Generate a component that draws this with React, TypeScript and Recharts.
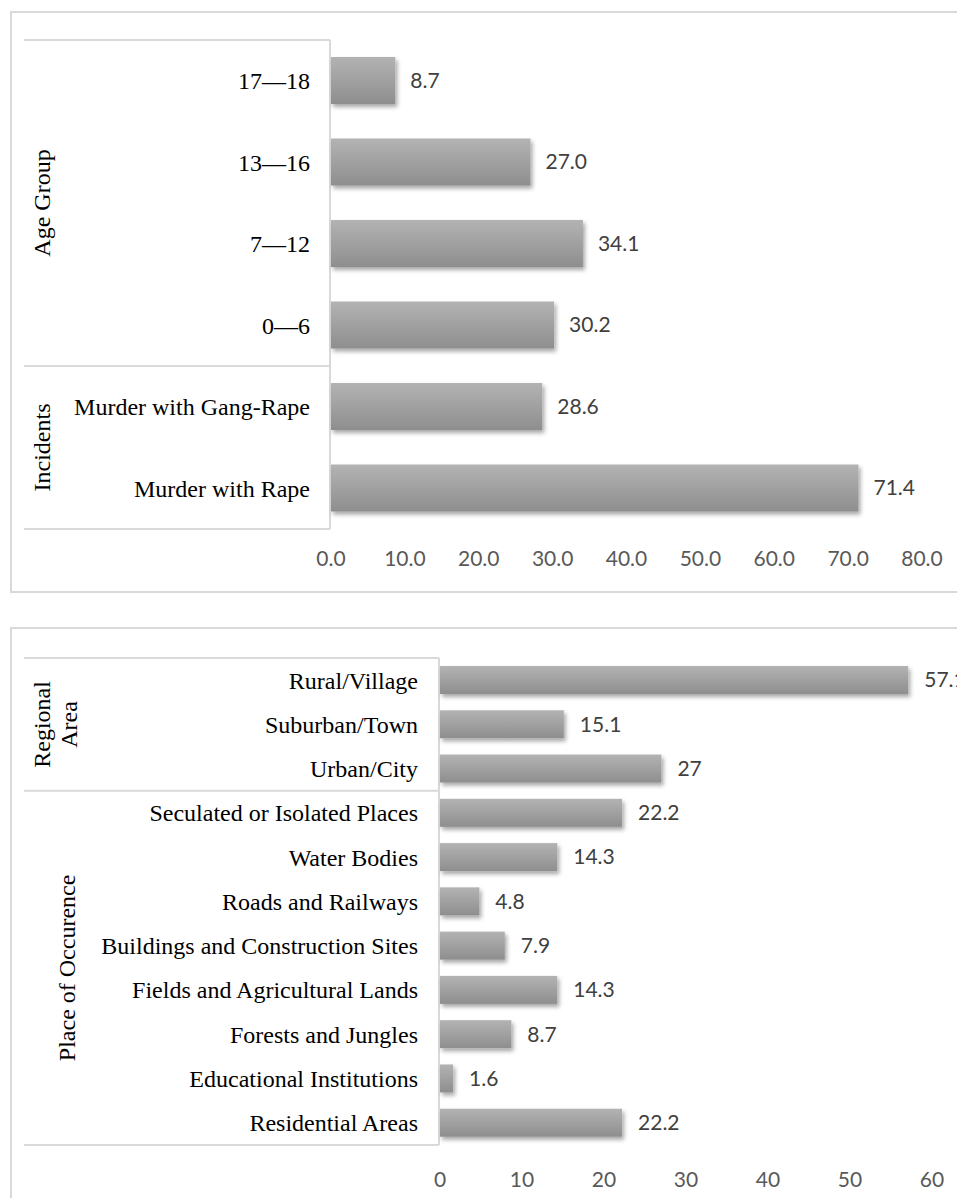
import React from 'react';
import { BarChart, Bar, XAxis, YAxis, LabelList, Customized } from 'recharts';

// ---------- data ----------
const ageCategories = ['17—18', '13—16', '7—12', '0—6'];
const ageValues = [8.7, 27.0, 34.1, 30.2];
const incidentCategories = ['Murder with Gang-Rape', 'Murder with Rape'];
const incidentValues = [28.6, 71.4];
const topTicks = [0, 10, 20, 30, 40, 50, 60, 70, 80];

const regionCategories = ['Rural/Village', 'Suburban/Town', 'Urban/City'];
const regionValues = [57.1, 15.1, 27];
const placeCategories = [
  'Seculated or Isolated Places',
  'Water Bodies',
  'Roads and Railways',
  'Buildings and Construction Sites',
  'Fields and Agricultural Lands',
  'Forests and Jungles',
  'Educational Institutions',
  'Residential Areas',
];
const placeValues = [22.2, 14.3, 4.8, 7.9, 14.3, 8.7, 1.6, 22.2];
const bottomTicks = [0, 10, 20, 30, 40, 50, 60];

const topGroupNames = [['Age Group'], ['Incidents']];
const bottomGroupNames = [['Regional', 'Area'], ['Place of Occurence']];

const topData = [...ageCategories, ...incidentCategories].map((name, i) => ({
  name,
  value: [...ageValues, ...incidentValues][i],
}));
const bottomData = [...regionCategories, ...placeCategories].map((name, i) => ({
  name,
  value: [...regionValues, ...placeValues][i],
}));

// ---------- style ----------
const SERIF = '"Liberation Serif", "Times New Roman", serif';
const SANS = 'Lato, "Open Sans", sans-serif';
const LINE = '#d9d9d9';

type Cfg = {
  w: number;
  h: number;
  margin: { top: number; right: number; bottom: number; left: number };
  yWidth: number;
  xAxisH: number;
  barSize: number;
  tickDy: number;
  labelBaseX: number[][];
  gradId: string;
  shadowId: string;
};

const cfgTop: Cfg = {
  w: 957,
  h: 600,
  margin: { top: 40, right: 35, bottom: 41, left: 0 },
  yWidth: 331,
  xAxisH: 30,
  barSize: 47,
  tickDy: 30,
  labelBaseX: [[50], [50]],
  gradId: 'gradTop',
  shadowId: 'shadowTop',
};

const cfgBottom: Cfg = {
  w: 957,
  h: 598,
  margin: { top: 58, right: 25, bottom: 23, left: 0 },
  yWidth: 440,
  xAxisH: 30,
  barSize: 28,
  tickDy: 35,
  labelBaseX: [[50, 77], [75]],
  gradId: 'gradBottom',
  shadowId: 'shadowBottom',
};

const makeOverlay = (cfg: Cfg, groupSizes: number[], groupNames: string[][]) => {
  const Overlay = () => {
    const top = cfg.margin.top;
    const bottom = cfg.h - cfg.margin.bottom - cfg.xAxisH;
    const left = cfg.margin.left + cfg.yWidth;
    const total = groupSizes.reduce((s, g) => s + g, 0);
    const rowH = (bottom - top) / total;
    const lines: number[] = [top];
    const labels: React.ReactNode[] = [];
    let acc = 0;
    groupSizes.forEach((size, gi) => {
      const y0 = top + acc * rowH;
      acc += size;
      const y1 = top + acc * rowH;
      lines.push(y1);
      const cy = (y0 + y1) / 2;
      groupNames[gi].forEach((txt, li) => {
        const bx = cfg.labelBaseX[gi][li];
        labels.push(
          <text
            key={`l-${gi}-${li}`}
            x={bx}
            y={cy}
            transform={`rotate(-90, ${bx}, ${cy})`}
            textAnchor="middle"
            fontFamily={SERIF}
            fontSize={24}
            fill="#000"
          >
            {txt}
          </text>
        );
      });
    });
    return (
      <g>
        <defs>
          <linearGradient id={cfg.gradId} x1="0" y1="0" x2="0" y2="1">
            <stop offset="0%" stopColor="#b3b3b3" />
            <stop offset="100%" stopColor="#8e8e8e" />
          </linearGradient>
          <filter id={cfg.shadowId} x="-50%" y="-50%" width="200%" height="200%">
            <feDropShadow dx="2" dy="3" stdDeviation="2" floodColor="#000" floodOpacity="0.35" />
          </filter>
        </defs>
        {lines.map((y, i) => (
          <line key={`h-${i}`} x1={24} x2={left - 1} y1={y} y2={y} stroke={LINE} strokeWidth={2} />
        ))}
        <line x1={left - 1} x2={left - 1} y1={top} y2={bottom} stroke={LINE} strokeWidth={2} />
        {labels}
      </g>
    );
  };
  return Overlay;
};

const makeBarShape = (cfg: Cfg) => (props: any) => {
  const { x, y, width, height } = props;
  return (
    <rect
      x={x}
      y={y}
      width={Math.max(0, width)}
      height={height}
      fill={`url(#${cfg.gradId})`}
      filter={`url(#${cfg.shadowId})`}
    />
  );
};

const makeYTick = () => (props: any) => {
  const { x, y, payload } = props;
  return (
    <text x={x} y={y} dy="0.35em" textAnchor="end" fontFamily={SERIF} fontSize={24} fill="#000">
      {payload.value}
    </text>
  );
};

const makeXTick = (cfg: Cfg, fmt: (v: number) => string) => (props: any) => {
  const { x, y, payload } = props;
  return (
    <text
      x={x}
      y={y + cfg.tickDy}
      dy="0.35em"
      textAnchor="middle"
      fontFamily={SANS}
      fontSize={21}
      fill="#595959"
    >
      {fmt(payload.value)}
    </text>
  );
};

const makeValueLabel = (fmt: (v: number) => string, offset: number) => (props: any) => {
  const { x, y, width, height, value } = props;
  return (
    <text
      x={Number(x) + Number(width) + offset}
      y={Number(y) + Number(height) / 2}
      dy="0.35em"
      textAnchor="start"
      fontFamily={SANS}
      fontSize={21}
      fill="#404040"
    >
      {fmt(Number(value))}
    </text>
  );
};

function HBarChart({
  cfg,
  data,
  ticks,
  tickFmt,
  labelFmt,
  labelOffset,
  groupSizes,
  groupNames,
}: {
  cfg: Cfg;
  data: { name: string; value: number }[];
  ticks: number[];
  tickFmt: (v: number) => string;
  labelFmt: (v: number) => string;
  labelOffset: number;
  groupSizes: number[];
  groupNames: string[][];
}) {
  const Overlay = makeOverlay(cfg, groupSizes, groupNames);
  return (
    <BarChart width={cfg.w} height={cfg.h} data={data} layout="vertical" margin={cfg.margin}>
      <Customized component={Overlay} />
      <XAxis
        type="number"
        domain={[ticks[0], ticks[ticks.length - 1]]}
        ticks={ticks}
        interval={0}
        axisLine={false}
        tickLine={false}
        tickSize={0}
        tickMargin={0}
        height={cfg.xAxisH}
        tick={makeXTick(cfg, tickFmt)}
      />
      <YAxis
        type="category"
        dataKey="name"
        width={cfg.yWidth}
        interval={0}
        axisLine={false}
        tickLine={false}
        tickSize={0}
        tickMargin={cfg === cfgTop ? 21 : 22}
        tick={makeYTick()}
      />
      <Bar dataKey="value" barSize={cfg.barSize} isAnimationActive={false} shape={makeBarShape(cfg)}>
        <LabelList dataKey="value" content={makeValueLabel(labelFmt, labelOffset)} />
      </Bar>
    </BarChart>
  );
}

export default function App() {
  return (
    <div
      style={{
        position: 'fixed',
        left: 0,
        top: 0,
        width: 957,
        height: 1198,
        overflow: 'hidden',
        background: '#fff',
      }}
    >
      <div
        style={{
          position: 'absolute',
          left: 10,
          top: 11,
          width: 1000,
          height: 578,
          border: `2px solid ${LINE}`,
        }}
      />
      <div
        style={{
          position: 'absolute',
          left: 10,
          top: 627,
          width: 1000,
          height: 700,
          border: `2px solid ${LINE}`,
        }}
      />
      <div style={{ position: 'absolute', left: 0, top: 0 }}>
        <HBarChart
          cfg={cfgTop}
          data={topData}
          ticks={topTicks}
          tickFmt={(v) => v.toFixed(1)}
          labelFmt={(v) => v.toFixed(1)}
          labelOffset={15}
          groupSizes={[ageCategories.length, incidentCategories.length]}
          groupNames={topGroupNames}
        />
      </div>
      <div style={{ position: 'absolute', left: 0, top: 600 }}>
        <HBarChart
          cfg={cfgBottom}
          data={bottomData}
          ticks={bottomTicks}
          tickFmt={(v) => String(v)}
          labelFmt={(v) => String(v)}
          labelOffset={16}
          groupSizes={[regionCategories.length, placeCategories.length]}
          groupNames={bottomGroupNames}
        />
      </div>
    </div>
  );
}
